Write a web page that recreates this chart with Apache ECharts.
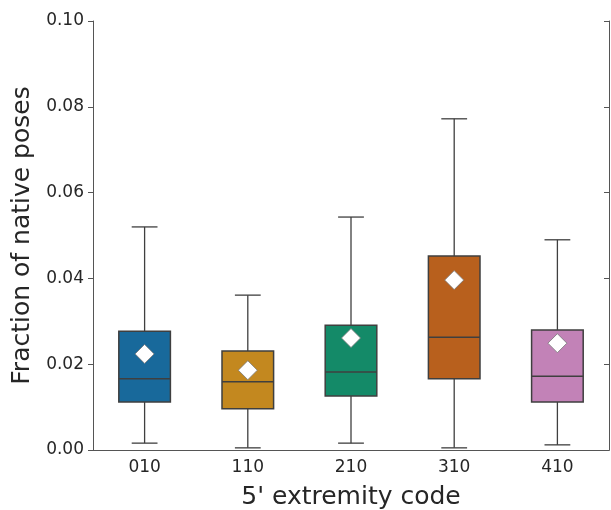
<!DOCTYPE html>
<html>
<head>
<meta charset="utf-8">
<script src="https://cdn.jsdelivr.net/npm/echarts@6/dist/echarts.min.js"></script>
<style>
  html, body { margin: 0; padding: 0; background: #fff; }
  #chart { width: 611px; height: 510px; }
</style>
</head>
<body>
<div id="chart"></div>
<script>
var categories = ['010', '110', '210', '310', '410'];
// [low whisker, Q1, median, Q3, high whisker]
var boxValues = [
    [0.0016, 0.0112, 0.0166, 0.0277, 0.0520],
    [0.0005, 0.0096, 0.0159, 0.0231, 0.0361],
    [0.0016, 0.0126, 0.0182, 0.0291, 0.0543],
    [0.0005, 0.0166, 0.0263, 0.0452, 0.0772],
    [0.0012, 0.0112, 0.0172, 0.0280, 0.0490]
];
var meanValues = [0.0224, 0.0186, 0.0261, 0.0396, 0.0249];
var boxColors = ['#18699b', '#c3881f', '#148a68', '#b8601d', '#c282b7'];
var yTicks = ['0.00', '0.02', '0.04', '0.06', '0.08', '0.10'];

var myChart = echarts.init(document.getElementById('chart'));
var textColor = '#262626';
var edge = '#3f3f3f';

function renderBox(params, api) {
    var i = api.value(0);
    var lo = api.coord([i, api.value(1)]);
    var q1 = api.coord([i, api.value(2)]);
    var med = api.coord([i, api.value(3)]);
    var q3 = api.coord([i, api.value(4)]);
    var hi = api.coord([i, api.value(5)]);
    var band = api.size([1, 0])[0];
    var bw = band * 0.5;
    var cw = band * 0.25;
    var x = lo[0];
    var lineStyle = { stroke: edge, lineWidth: 1.3 };
    return {
        type: 'group',
        children: [
            { type: 'line', shape: { x1: x, y1: q3[1], x2: x, y2: hi[1] }, style: lineStyle },
            { type: 'line', shape: { x1: x, y1: q1[1], x2: x, y2: lo[1] }, style: lineStyle },
            { type: 'line', shape: { x1: x - cw / 2, y1: hi[1], x2: x + cw / 2, y2: hi[1] }, style: lineStyle },
            { type: 'line', shape: { x1: x - cw / 2, y1: lo[1], x2: x + cw / 2, y2: lo[1] }, style: lineStyle },
            { type: 'rect', shape: { x: x - bw / 2, y: q3[1], width: bw, height: q1[1] - q3[1] },
              style: { fill: boxColors[i], stroke: edge, lineWidth: 1.5 } },
            { type: 'line', shape: { x1: x - bw / 2, y1: med[1], x2: x + bw / 2, y2: med[1] },
              style: { stroke: edge, lineWidth: 1.5 } }
        ]
    };
}

var option = {
    backgroundColor: '#fff',
    animation: false,
    grid: { left: 93, top: 21, right: 2, bottom: 60, containLabel: false, outerBoundsMode: 'none' },
    xAxis: [
        {
            type: 'category',
            data: categories,
            name: "5' extremity code",
            nameLocation: 'middle',
            nameGap: 35,
            nameTextStyle: { fontFamily: 'DejaVu Sans', fontSize: 25, color: textColor },
            axisLine: { lineStyle: { color: '#555', width: 1 } },
            axisTick: { alignWithLabel: true, length: 5, lineStyle: { color: '#555' } },
            axisLabel: { fontFamily: 'DejaVu Sans', fontSize: 17, color: textColor, margin: 9 },
            splitLine: { show: false }
        },
        {
            type: 'category',
            data: categories,
            position: 'top',
            axisLine: { lineStyle: { color: '#555', width: 1 } },
            axisTick: { alignWithLabel: true, inside: true, length: 5, lineStyle: { color: '#555' } },
            axisLabel: { show: false }
        }
    ],
    yAxis: [
        {
            type: 'value',
            min: 0,
            max: 0.1,
            interval: 0.02,
            name: 'Fraction of native poses',
            nameLocation: 'middle',
            nameGap: 58,
            nameTextStyle: { fontFamily: 'DejaVu Sans', fontSize: 25, color: textColor },
            axisLine: { show: true, lineStyle: { color: '#555', width: 1 } },
            axisTick: { show: true, length: 5, lineStyle: { color: '#555' } },
            axisLabel: {
                fontFamily: 'DejaVu Sans', fontSize: 17, color: textColor, margin: 9,
                formatter: function (v) { return yTicks[Math.round(v / 0.02)]; }
            },
            splitLine: { show: false }
        },
        {
            type: 'value',
            min: 0,
            max: 0.1,
            interval: 0.02,
            position: 'right',
            axisLine: { show: true, lineStyle: { color: '#555', width: 1 } },
            axisTick: { show: true, inside: true, length: 5, lineStyle: { color: '#555' } },
            axisLabel: { show: false },
            splitLine: { show: false }
        }
    ],
    series: [
        {
            type: 'custom',
            renderItem: renderBox,
            encode: { x: 0, y: [1, 2, 3, 4, 5] },
            data: boxValues.map(function (b, i) { return [i].concat(b); }),
            z: 2
        },
        {
            type: 'scatter',
            data: meanValues.map(function (m, i) { return [i, m]; }),
            symbol: 'diamond',
            symbolSize: [19, 19],
            itemStyle: { color: '#fff', borderColor: '#777', borderWidth: 0.8, opacity: 1 },
            z: 3
        }
    ]
};
myChart.setOption(option);
</script>
</body>
</html>
